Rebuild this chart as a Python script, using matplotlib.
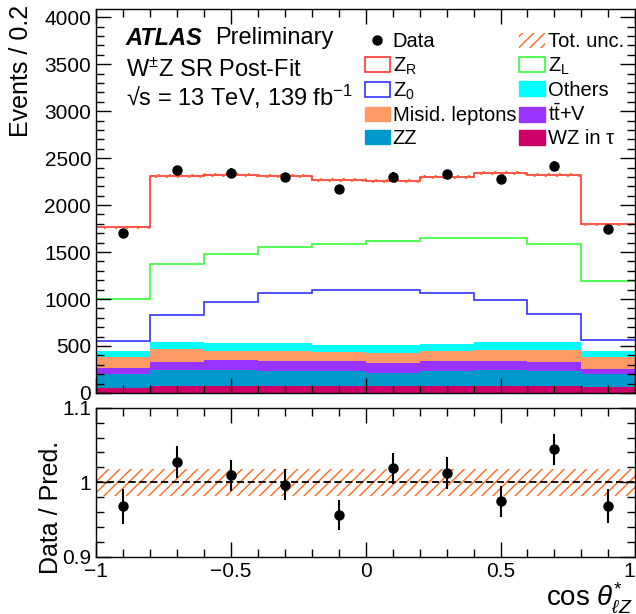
import numpy as np
import matplotlib.pyplot as plt
from matplotlib.patches import Patch
from matplotlib.lines import Line2D
from matplotlib.ticker import MultipleLocator

plt.rcParams['font.family'] = ['Liberation Sans', 'DejaVu Sans']
plt.rcParams['mathtext.fontset'] = 'custom'
plt.rcParams['mathtext.rm'] = 'Liberation Sans'
plt.rcParams['mathtext.it'] = 'Liberation Sans:italic'
plt.rcParams['hatch.linewidth'] = 1.0

edges = np.linspace(-1, 1, 11)
centers = 0.5 * (edges[:-1] + edges[1:])

# background and signal components per bin
wz_tau = np.array([56, 78, 78, 78, 78, 78, 78, 78, 78, 61])
zz = np.array([150, 167, 167, 159, 159, 138, 152, 167, 152, 138])
ttv = np.array([56, 85, 106, 100, 100, 107, 107, 99, 100, 60])
misid = np.array([117, 135, 99, 113, 99, 102, 106, 117, 127, 120])
others = np.array([68, 81, 85, 78, 78, 82, 82, 85, 82, 68])
z_0 = np.array([110, 284, 433, 532, 585, 589, 539, 440, 305, 117])
z_l = np.array([440, 546, 514, 490, 489, 521, 585, 663, 738, 627])
z_r = np.array([766, 933, 840, 755, 678, 642, 652, 688, 734, 607])

data = np.array([1706, 2372, 2344, 2298, 2167, 2301, 2330, 2277, 2418, 1741])

unc_main = 0.009   # relative, top panel band
unc_ratio = 0.018  # relative, ratio panel band

unc_col = '#ff6a1a'
fills = [(wz_tau, '#cc0066', 'WZ in \u03c4'),
         (zz, '#0099cc', 'ZZ'),
         (ttv, '#9933ff', r't$\bar{\mathrm{t}}$+V'),
         (misid, '#ff9966', 'Misid. leptons'),
         (others, '#00ffff', 'Others')]
lines = [(z_0, '#3333ff', r'Z$_0$'),
         (z_l, '#33ff33', r'Z$_\mathrm{L}$'),
         (z_r, '#ff3333', r'Z$_\mathrm{R}$')]

fig = plt.figure(figsize=(6.36, 6.14), dpi=100)
ax = fig.add_axes([0.151, 0.36, 0.848, 0.625])
rax = fig.add_axes([0.151, 0.093, 0.848, 0.243])

handles = {}
base = np.zeros(10)
for vals, col, lab in fills:
    ax.stairs(base + vals, edges, baseline=base.copy(), fill=True, color=col, lw=0)
    handles[lab] = Patch(facecolor=col, edgecolor=col)
    base = base + vals
for vals, col, lab in lines:
    ax.stairs(base + vals, edges, baseline=None, color=col, lw=1.2)
    handles[lab] = Patch(facecolor='white', edgecolor=col, lw=1.2)
    base = base + vals
total = base

ax.stairs(total * (1 + unc_main), edges, baseline=total * (1 - unc_main), fill=True,
          facecolor='none', edgecolor=unc_col, hatch='///', lw=0)
ax.errorbar(centers, data, yerr=np.sqrt(data), fmt='o', color='black', ms=6.5,
            elinewidth=1.5, capsize=0, zorder=5)
handles['Data'] = Line2D([], [], marker='o', color='black', ls='none', ms=6.5)
handles['Tot. unc.'] = Patch(facecolor='none', edgecolor=unc_col, hatch='///', lw=0)

ax.set_xlim(-1, 1)
ax.set_ylim(0, 4085)
ax.set_ylabel('Events / 0.2', fontsize=18, loc='top')
ax.yaxis.set_major_locator(MultipleLocator(500))
ax.yaxis.set_minor_locator(MultipleLocator(100))
ax.tick_params(labelbottom=False)

ax.text(0.055, 0.924, 'ATLAS', transform=ax.transAxes, fontsize=17, va='center',
        fontweight='bold', fontstyle='italic')
ax.text(0.22, 0.924, 'Preliminary', transform=ax.transAxes, fontsize=17, va='center')
ax.text(0.055, 0.841, r'W$^{\pm}$Z SR Post-Fit', transform=ax.transAxes,
        fontsize=17, va='center')
ax.text(0.055, 0.771, '\u221as = 13 TeV, 139 fb$^{-1}$',
        transform=ax.transAxes, fontsize=17, va='center')

order = ['Data', r'Z$_\mathrm{R}$', r'Z$_0$', 'Misid. leptons', 'ZZ',
         'Tot. unc.', r'Z$_\mathrm{L}$', 'Others', r't$\bar{\mathrm{t}}$+V', 'WZ in \u03c4']
ax.legend([handles[k] for k in order], order, ncol=2, loc='upper left',
          bbox_to_anchor=(0.498, 0.94), frameon=False, fontsize=14.5,
          handlelength=1.25, handleheight=0.75, handletextpad=0.15,
          columnspacing=0.15, labelspacing=0.2, borderaxespad=0, borderpad=0)

# ratio panel
ratio = data / total
rerr = np.sqrt(data) / total
rax.stairs(np.full(10, 1 + unc_ratio), edges, baseline=np.full(10, 1 - unc_ratio),
           fill=True, facecolor='none', edgecolor=unc_col, hatch='///', lw=0)
rax.axhline(1, color='black', ls='--', lw=1.3, dashes=(4, 2))
rax.errorbar(centers, ratio, yerr=rerr, fmt='o', color='black', ms=6.5,
             elinewidth=1.5, capsize=0, zorder=5)
rax.set_xlim(-1, 1)
rax.set_ylim(0.9, 1.1)
rax.set_ylabel('Data / Pred.', fontsize=18)
rax.set_xlabel(r'cos $\theta^{*}_{\ell Z}$', fontsize=20)

for a in (ax, rax):
    a.xaxis.set_major_locator(MultipleLocator(0.5))
    a.xaxis.set_minor_locator(MultipleLocator(0.1))
    a.tick_params(which='both', direction='in', top=True, right=True,
                  labelsize=15, width=1)
    a.tick_params(which='major', length=11)
    a.tick_params(which='minor', length=5.5)
    for s in a.spines.values():
        s.set_linewidth(1.0)
rax.set_yticks([0.9, 1.0, 1.1], ['0.9', '1', '1.1'])
rax.yaxis.set_minor_locator(MultipleLocator(0.02))
rax.set_xticks([-1, -0.5, 0, 0.5, 1], ['\u22121', '\u22120.5', '0', '0.5', '1'])
rax.get_xticklabels()[-1].set_horizontalalignment('right')

ax.yaxis.set_label_coords(-0.117, 1.01)
rax.yaxis.set_label_coords(-0.061, 0.333)
rax.xaxis.set_label_coords(0.995, -0.16)
rax.xaxis.label.set_horizontalalignment('right')

fig.savefig('out.png', dpi=100)
